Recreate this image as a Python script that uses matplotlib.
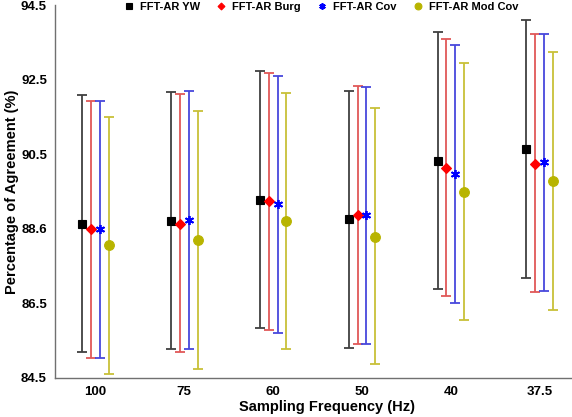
import matplotlib
matplotlib.use("Agg")
import matplotlib.pyplot as plt
import numpy as np

plt.rcParams['font.family'] = ['Liberation Sans', 'DejaVu Sans']

categories = ["100", "75", "60", "50", "40", "37.5"]
series = ["FFT-AR YW", "FFT-AR Burg", "FFT-AR Cov", "FFT-AR Mod Cov"]

yw_mean = [88.62, 88.71, 89.27, 88.75, 90.32, 90.64]
yw_low = [85.18, 85.27, 85.83, 85.30, 86.88, 87.18]
yw_high = [92.09, 92.17, 92.72, 92.20, 93.78, 94.10]

burg_mean = [88.48, 88.62, 89.24, 88.87, 90.13, 90.24]
burg_low = [85.02, 85.19, 85.77, 85.42, 86.69, 86.81]
burg_high = [91.93, 92.10, 92.68, 92.33, 93.59, 93.73]

cov_mean = [88.48, 88.73, 89.15, 88.87, 89.97, 90.28]
cov_low = [85.02, 85.27, 85.69, 85.40, 86.51, 86.83]
cov_high = [91.93, 92.19, 92.59, 92.30, 93.43, 93.73]

mod_mean = [88.05, 88.19, 88.70, 88.29, 89.49, 89.77]
mod_low = [84.61, 84.74, 85.27, 84.86, 86.05, 86.33]
mod_high = [91.50, 91.65, 92.15, 91.75, 92.95, 93.24]

ytick_values = [84.5, 86.5, 88.5, 90.5, 92.5, 94.5]
ytick_labels = ["84.5", "86.5", "88.6", "90.5", "92.5", "94.5"]

means = [yw_mean, burg_mean, cov_mean, mod_mean]
lows = [yw_low, burg_low, cov_low, mod_low]
highs = [yw_high, burg_high, cov_high, mod_high]
line_colors = ["#404040", "#e05858", "#4848dc", "#c8c038"]
marker_colors = ["#000000", "#ff0000", "#0000ff", "#b8b400"]
markers = ["s", "D", (6, 2, 0), "o"]
msizes = [6, 5, 6.5, 7]
medgew = [0.8, 0.8, 1.3, 0.8]
offsets = [-0.15, -0.05, 0.05, 0.15]

fig = plt.figure(figsize=(5.72, 4.17), dpi=100)
ax = fig.add_axes([0.0967, 0.094, 0.903, 0.894])

x = np.arange(1, len(categories) + 1)
handles = []
for i in range(4):
    m = np.array(means[i])
    lo = m - np.array(lows[i])
    hi = np.array(highs[i]) - m
    ax.errorbar(x + offsets[i], m, yerr=[lo, hi], fmt='none',
                ecolor=line_colors[i], elinewidth=1.3, capsize=3.6, capthick=1.3,
                zorder=2)
    h, = ax.plot(x + offsets[i], m, linestyle='none', marker=markers[i],
                 color=marker_colors[i], markersize=msizes[i],
                 markeredgewidth=medgew[i], zorder=3,
                 label=series[i])
    handles.append(h)

ax.set_xlim(0.55, 6.36)
ax.set_ylim(84.5, 94.5)
ax.set_xticks(x)
ax.set_xticklabels(categories, fontsize=9.5, fontweight='bold')
ax.set_yticks(ytick_values)
ax.set_yticklabels(ytick_labels, fontsize=9.5, fontweight='bold')
ax.tick_params(axis='x', length=0, pad=6)
ax.tick_params(axis='y', length=0, pad=6)

for s in ['top', 'right']:
    ax.spines[s].set_visible(False)
for s in ['left', 'bottom']:
    ax.spines[s].set_color('#707070')
    ax.spines[s].set_linewidth(1.0)

ax.set_xlabel("Sampling Frequency (Hz)", fontsize=10.5, fontweight='bold')
ax.xaxis.set_label_coords(0.526, -0.06)
ax.set_ylabel("Percentage of Agreement (%)", fontsize=10.5, fontweight='bold')
ax.yaxis.set_label_coords(-0.07, 0.5)

leg = ax.legend(handles=handles, loc='center', bbox_to_anchor=(0.515, 0.995),
                ncol=4, frameon=False, prop={'weight': 'bold', 'size': 8},
                handlelength=0.8, handletextpad=0.6, columnspacing=1.5,
                markerscale=0.7)

fig.savefig("out.png", dpi=100)
